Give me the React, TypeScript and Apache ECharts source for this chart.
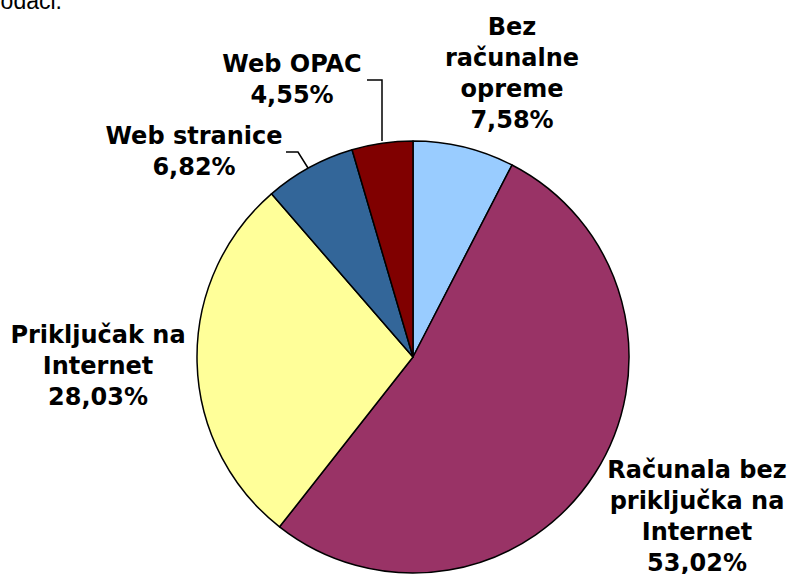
import React, { useEffect, useRef } from "react";
import * as echarts from "echarts";

const categories = [
  "Bez\nračunalne\nopreme",
  "Računala bez\npriključka na\nInternet",
  "Priključak na\nInternet",
  "Web stranice",
  "Web OPAC",
];
const values = [7.58, 53.02, 28.03, 6.82, 4.55];
const colors = ["#99CCFF", "#993366", "#FFFF99", "#336699", "#800000"];
const headerFragment = "podaci.";

// label layout (center of each label block)
const labelPos: [number, number][] = [
  [512, 73],
  [697, 516],
  [98, 366],
  [194, 151],
  [292, 79],
];
const leaderLines: Record<number, number[][]> = {
  3: [[308, 168], [298, 152], [286, 152]],
  4: [[382, 141], [382, 80], [367, 80]],
};

export default function App() {
  const ref = useRef<HTMLDivElement>(null);
  useEffect(() => {
    if (!ref.current) return;
    const chart = echarts.init(ref.current, undefined, { renderer: "svg" });
    const font = "'DejaVu Sans', Verdana, sans-serif";
    chart.setOption({
      animation: false,
      backgroundColor: "#ffffff",
      graphic: [
        {
          type: "text",
          x: 62,
          y: 1,
          style: {
            text: headerFragment,
            fontSize: 23,
            fontFamily: "'Liberation Sans', Arial, sans-serif",
            fill: "#000",
            align: "right",
            verticalAlign: "middle",
          },
        },
      ],
      series: [
        {
          type: "pie",
          center: [413, 357],
          radius: 216,
          startAngle: 90,
          clockwise: true,
          avoidLabelOverlap: false,
          itemStyle: { borderColor: "#000", borderWidth: 1.5 },
          label: {
            show: true,
            position: "outside",
            color: "#000",
            fontFamily: font,
            fontWeight: "bold",
            fontSize: 24,
            lineHeight: 31,
            align: "center",
            formatter: (p: any) =>
              p.name + "\n" + Number(p.value).toFixed(2).replace(".", ",") + "%",
          },
          labelLine: {
            show: true,
            lineStyle: { color: "#000", width: 1.5 },
          },
          labelLayout: (params: any) => {
            const i = params.dataIndex;
            const out: any = {
              x: labelPos[i][0],
              y: labelPos[i][1],
              align: "center",
              verticalAlign: "middle",
            };
            if (leaderLines[i]) out.labelLinePoints = leaderLines[i];
            return out;
          },
          data: categories.map((c, i) => ({
            name: c,
            value: values[i],
            itemStyle: { color: colors[i] },
            labelLine: { show: !!leaderLines[i] },
          })),
        },
      ],
    });
    return () => chart.dispose();
  }, []);
  return (
    <div
      ref={ref}
      style={{ position: "absolute", left: 0, top: 0, width: 787, height: 574 }}
    />
  );
}
